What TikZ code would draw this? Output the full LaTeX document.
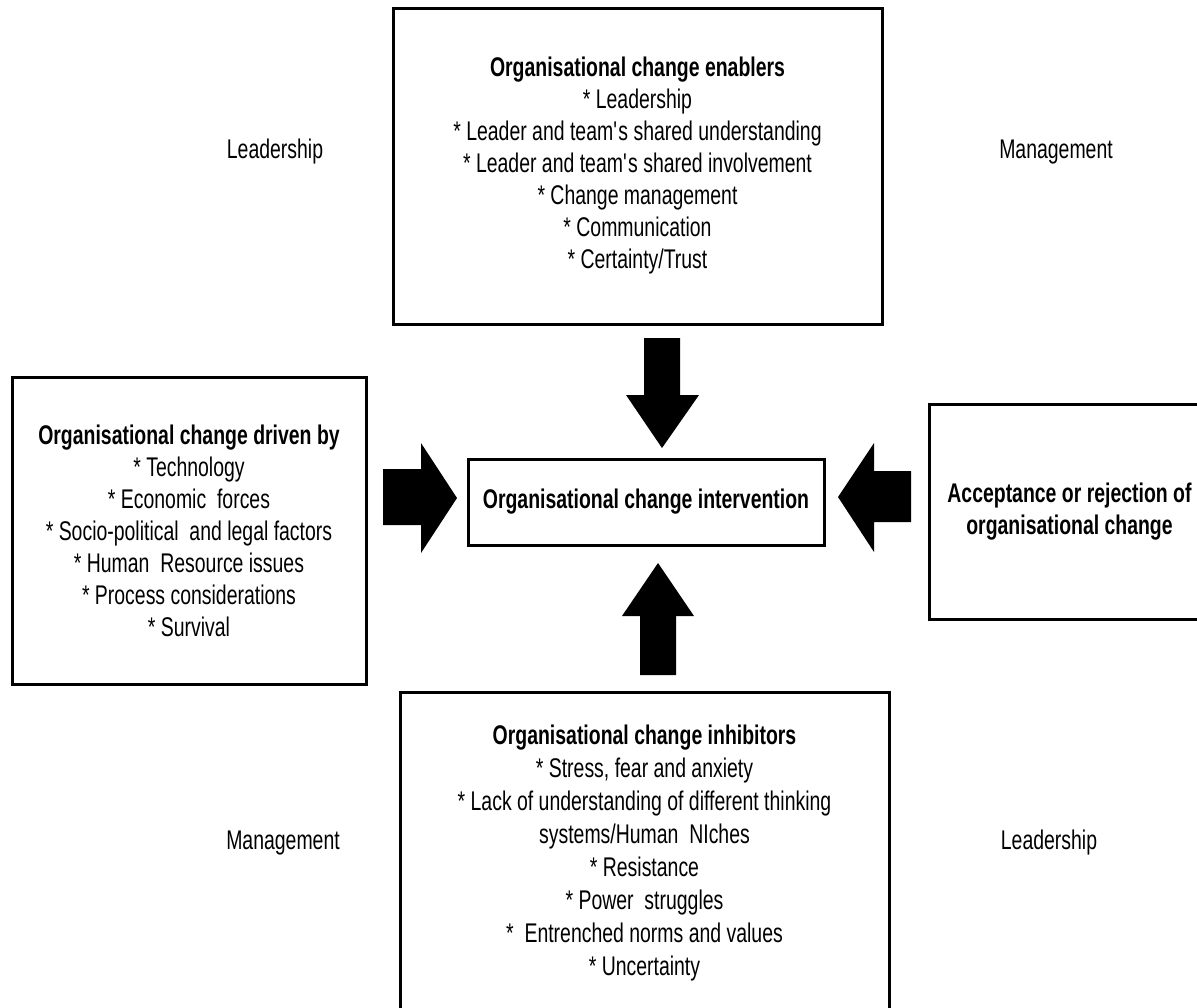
\documentclass[tikz,border=0pt]{standalone}
\usepackage{fontspec}
\setmainfont[FakeStretch=0.72]{Liberation Sans}
\usepackage{tikz}
\usetikzlibrary{positioning}

\begin{document}
\begin{tikzpicture}[x=0.5pt, y=-0.5pt,
    box/.style={draw, line width=1.5pt, align=center, inner sep=0pt,
      font=\fontsize{13.5}{16}\selectfont},
    side/.style={font=\fontsize{13.5}{16}\selectfont}]
  \useasboundingbox (0,0) rectangle (1197,1007);

  % Riquadri
  \node[box, minimum width=244.5pt, minimum height=158pt] (enablers) at (637.5,166)
    {\textbf{Organisational change enablers}\\
     * Leadership\\
     * Leader and team\textquotesingle s shared understanding\\
     * Leader and team\textquotesingle s shared involvement\\
     * Change management\\
     * Communication\\
     * Certainty/Trust};
  \node[box, minimum width=177pt, minimum height=153.5pt] (drivers) at (189,530.5)
    {\textbf{Organisational change driven by}\\
     * Technology\\
     * Economic\ \ forces\\
     * Socio-political\ \ and legal factors\\
     * Human\ \ Resource issues\\
     * Process considerations\\
     * Survival};
  \node[box, minimum width=178pt, minimum height=43pt] (intervention) at (646,502)
    {\textbf{Organisational change intervention}};
  \node[box, minimum width=140.5pt, minimum height=107.5pt] (acceptance) at (1069.5,511.5)
    {\textbf{Acceptance or rejection of}\\
     \textbf{organisational change}};
  \node[box, minimum width=244.5pt, minimum height=161pt,
    font=\fontsize{13.5}{16.5}\selectfont] (inhibitors) at (644.5,853)
    {\textbf{Organisational change inhibitors}\\
     * Stress, fear and anxiety\\
     * Lack of understanding of different thinking\\
     systems/Human\ \ NIches\\
     * Resistance\\
     * Power\ \ struggles\\
     *\ \ Entrenched norms and values\\
     * Uncertainty};

  % Etichette libere
  \node[side] (leadTop) at (275,152) {Leadership};
  \node[side] (mgmtTop) at (1056,152) {Management};
  \node[side] (mgmtBot) at (283,843) {Management};
  \node[side] (leadBot) at (1049,843) {Leadership};

  % Frecce piene
  \fill (457,498) -- (421,443) -- (421,469) -- (383,469) -- (383,525)
    -- (421,525) -- (421,553) -- cycle;
  \fill (838,497) -- (874,443) -- (874,471) -- (911,471) -- (911,522)
    -- (874,522) -- (874,552) -- cycle;
  \fill (662,448) -- (626,395) -- (644,395) -- (644,338) -- (680,338)
    -- (680,395) -- (699,395) -- cycle;
  \fill (658,563) -- (622,616) -- (640,616) -- (640,675) -- (676,675)
    -- (676,616) -- (694,616) -- cycle;
\end{tikzpicture}
\end{document}
